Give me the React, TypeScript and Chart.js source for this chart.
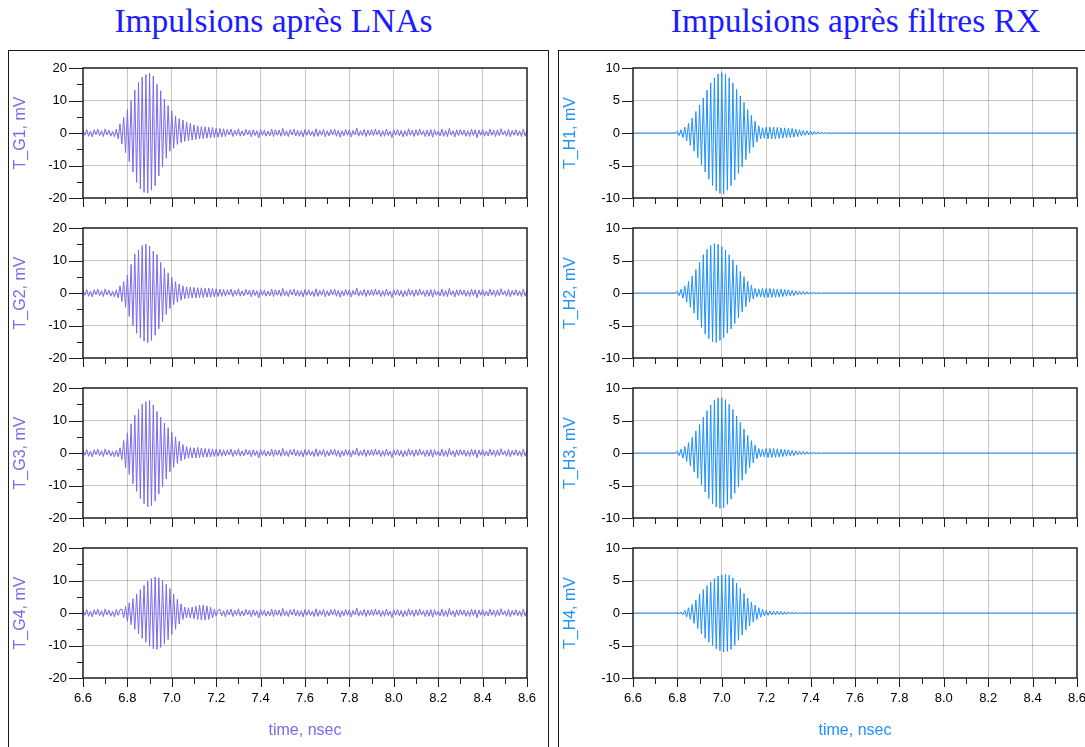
import React, { useEffect, useRef } from "react";
import { Chart, registerables } from "chart.js";

Chart.register(...registerables);

// ---------------- data ----------------
const T_START = 6.6; // nsec
const T_END = 8.6; // nsec
const SAMPLE_STEP_NS = 1 / 120; // half period of the ~60 GHz carrier
const X_TICK_STEP = 0.1;
const X_TICK_LABELS = ["6.6", "6.8", "7.0", "7.2", "7.4", "7.6", "7.8", "8.0", "8.2", "8.4", "8.6"];

const LNA_Y_LABELS = ["-20", "-10", "0", "10", "20"];
const RX_Y_LABELS = ["-10", "-5", "0", "5", "10"];

const LNA_TITLES = ["T_G1, mV", "T_G2, mV", "T_G3, mV", "T_G4, mV"];
const RX_TITLES = ["T_H1, mV", "T_H2, mV", "T_H3, mV", "T_H4, mV"];

// LNA output noise floor, one value per sample from 6.6 to 8.6 nsec (mV)
const NOISE_LNA = [
  0.9, -0.7, 1.1, -1.0, 0.6, -1.2, 1.0, -0.5, 1.2, -0.8, 0.7, -1.1, 1.3, -0.6, 0.9, -1.0, 0.5, -1.2, 1.1, -0.7,
  1.0, -0.8, 0.6, -1.3, 1.2, -0.7, 0.4, -1.1, 0.8, -0.6, 1.4, -1.0, 0.9, -0.8, 1.1, -1.2, 0.6, -0.7, 1.0, -1.1,
  0.7, -1.0, 1.2, -0.6, 0.9, -1.4, 1.0, -0.8, 1.1, -0.7, 0.6, -1.1, 1.2, -1.0, 0.7, -0.9, 1.5, -0.7, 0.9, -1.2,
  1.0, -0.6, 1.1, -0.9, 0.7, -1.1, 0.9, -1.3, 1.2, -0.7, 1.0, -0.8, 0.6, -1.0, 1.1, -0.9, 0.7, -1.2, 1.0, -0.6,
  1.2, -1.1, 0.9, -0.7, 1.3, -1.0, 0.7, -0.9, 1.1, -0.6, 0.9, -1.2, 1.0, -0.8, 0.7, -1.5, 1.1, -0.7, 0.9, -1.0,
  0.6, -0.9, 1.2, -1.1, 1.0, -0.7, 0.9, -1.0, 1.4, -0.8, 0.7, -1.1, 1.0, -0.6, 1.2, -0.9, 0.8, -1.0, 0.7, -1.2,
  1.1, -0.7, 1.0, -0.8, 0.6, -1.1, 1.3, -1.0, 0.8, -0.7, 1.1, -1.2, 0.7, -0.9, 1.0, -0.6, 1.2, -1.0, 0.8, -1.3,
  0.7, -0.9, 1.1, -0.7, 1.0, -1.2, 0.8, -0.6, 1.5, -1.0, 0.7, -0.8, 1.1, -1.1, 0.9, -0.7, 1.0, -0.8, 1.2, -0.6,
  0.9, -1.1, 0.7, -1.0, 1.2, -0.8, 0.6, -1.4, 1.0, -0.7, 1.1, -0.9, 0.8, -1.2, 0.7, -1.0, 1.3, -0.7, 0.9, -1.1,
  1.0, -0.8, 1.2, -0.6, 0.7, -1.1, 0.9, -1.0, 1.1, -1.3, 1.0, -0.7, 0.6, -0.9, 1.2, -1.0, 0.8, -1.1, 1.4, -0.7,
  0.7, -1.2, 1.0, -0.8, 1.1, -0.6, 0.9, -1.0, 0.7, -1.1, 1.2, -0.8, 1.0, -1.5, 0.9, -0.7, 1.1, -1.0, 0.6, -0.9,
  1.2, -0.7, 0.9, -1.1, 1.0, -0.8, 1.3, -0.6, 0.7, -1.0, 1.1, -1.2, 0.8, -0.7, 1.0, -0.9, 0.7, -1.1, 1.2, -1.0,
  0.8,
];

// Pulse extrema (one per half carrier period), mV, after the LNAs
const G1_START_INDEX = 18; // 6.75 nsec
const G1_PULSE = [
  1.2, -1.8, 2.8, -3.4, 4.8, -6.0, 7.2, -8.8, 10.0, -12.0, 13.2, -15.2, 15.6, -17.2, 17.2, -18.3, 18.0, -18.5, 18.4, -17.6,
  17.5, -16.2, 15.0, -13.2, 13.0, -10.5, 10.4, -7.8, 8.4, -5.6, 6.8, -4.7, 5.2, -3.5, 4.4, -3.0, 4.0, -2.6, 3.4, -2.4,
  3.0, -2.2, 2.5, -2.0, 2.2, -1.8, 2.0, -1.7, 1.9, -1.6, 1.8, -1.5, 1.7, -1.4, 1.5, -1.3, 1.4, -1.2, 1.3, -1.1, 1.1,
];
const G2_START_INDEX = 18;
const G2_PULSE = [
  1.0, -1.5, 2.2, -2.6, 3.5, -4.4, 5.5, -7.2, 8.8, -10.0, 12.0, -12.4, 13.2, -13.8, 14.6, -14.8, 15.0, -15.3, 14.4, -14.6,
  12.9, -13.0, 11.8, -11.0, 9.4, -8.8, 7.6, -6.6, 6.2, -4.8, 4.8, -3.6, 3.5, -2.8, 2.8, -2.2, 2.2, -1.8, 1.9, -1.6,
  1.8, -1.5, 1.7, -1.5, 1.6, -1.4, 1.6, -1.4, 1.5, -1.3, 1.5, -1.3, 1.4, -1.2, 1.3, -1.1, 1.2, -1.0, 1.1, -1.0, 1.0,
];
const G3_START_INDEX = 18;
const G3_PULSE = [
  0.8, -1.2, 1.6, -2.0, 3.8, -4.6, 6.2, -6.6, 9.0, -9.4, 11.6, -11.8, 13.4, -14.0, 15.0, -15.6, 15.8, -16.5, 16.1, -16.2,
  14.8, -14.8, 12.8, -12.6, 11.0, -10.4, 9.2, -8.0, 7.8, -5.8, 6.4, -4.4, 5.0, -3.2, 3.6, -2.4, 2.6, -1.9, 2.0, -1.6,
  1.7, -1.5, 1.6, -1.5, 1.7, -1.4, 1.5, -1.3, 1.4, -1.3, 1.3, -1.2, 1.2, -1.1, 1.2, -1.0, 1.1, -1.0, 1.0, -0.9, 0.9,
];
const G4_START_INDEX = 21; // 6.775 nsec
const G4_PULSE = [
  1.2, -1.5, 2.0, -2.6, 3.2, -3.6, 4.4, -5.0, 5.8, -6.4, 7.2, -7.8, 8.5, -9.0, 9.8, -10.2, 10.6, -11.0, 11.1, -11.2,
  10.8, -10.6, 10.0, -9.5, 8.8, -8.2, 7.5, -6.6, 5.8, -5.0, 4.2, -3.4, 2.8, -2.0, 1.8, -1.5, 1.6, -1.5, 1.8, -1.8,
  2.1, -2.0, 2.4, -2.2, 2.4, -2.2, 2.2, -2.0, 1.8, -1.5, 1.2, -1.0, 0.9,
];

// Pulse extrema after the RX filters, mV, starting at 6.8 nsec
const RX_START_T = 6.8;
const H1_PULSE = [
  0.3, -0.4, 0.5, -0.7, 0.9, -1.2, 1.5, -1.9, 2.3, -2.8, 3.3, -3.8, 4.3, -4.9, 5.4, -6.0, 6.6, -7.1, 7.7, -8.1,
  8.5, -8.9, 9.1, -9.3, 9.3, -9.4, 9.1, -8.8, 8.5, -8.1, 7.7, -7.2, 6.7, -6.2, 5.7, -5.2, 4.7, -4.1, 3.6, -3.1,
  2.7, -2.2, 1.8, -1.4, 1.1, -0.9, 0.8, -0.8, 0.9, -0.9, 0.9, -0.9, 0.9, -0.9, 0.85, -0.85, 0.8, -0.8, 0.8, -0.75,
  0.75, -0.7, 0.7, -0.65, 0.6, -0.55, 0.5, -0.45, 0.4, -0.35, 0.35, -0.3, 0.3, -0.25, 0.25, -0.2, 0.2, -0.15, 0.15, -0.1,
  0.1, -0.1, 0.05, -0.05, 0,
];
const H2_PULSE = [
  0.3, -0.4, 0.6, -0.8, 1.1, -1.4, 1.8, -2.2, 2.6, -3.1, 3.6, -4.1, 4.7, -5.3, 5.9, -6.3, 6.7, -7.0, 7.3, -7.5,
  7.6, -7.6, 7.5, -7.3, 7.1, -6.9, 6.6, -6.2, 5.9, -5.5, 5.1, -4.7, 4.3, -3.8, 3.3, -2.9, 2.5, -2.1, 1.8, -1.4,
  1.2, -0.9, 0.7, -0.6, 0.6, -0.6, 0.7, -0.7, 0.7, -0.7, 0.7, -0.7, 0.65, -0.65, 0.6, -0.6, 0.6, -0.55, 0.55, -0.5,
  0.5, -0.45, 0.4, -0.4, 0.35, -0.3, 0.3, -0.25, 0.25, -0.2, 0.2, -0.15, 0.15, -0.1, 0.1, -0.1, 0.05, -0.05, 0,
];
const H3_PULSE = [
  0.3, -0.4, 0.6, -0.8, 1.0, -1.3, 1.6, -2.0, 2.4, -2.9, 3.4, -3.9, 4.4, -4.9, 5.5, -6.0, 6.5, -7.0, 7.4, -7.8,
  8.1, -8.3, 8.5, -8.5, 8.5, -8.4, 8.2, -7.9, 7.5, -7.1, 6.7, -6.2, 5.7, -5.2, 4.7, -4.2, 3.7, -3.2, 2.7, -2.3,
  1.9, -1.5, 1.2, -0.9, 0.7, -0.6, 0.6, -0.6, 0.7, -0.7, 0.7, -0.7, 0.7, -0.65, 0.65, -0.6, 0.6, -0.55, 0.55, -0.5,
  0.5, -0.45, 0.4, -0.4, 0.35, -0.3, 0.3, -0.25, 0.25, -0.2, 0.2, -0.15, 0.15, -0.1, 0.1, -0.1, 0.05, -0.05, 0,
];
const H4_PULSE = [
  0.05, -0.1, 0.15, -0.25, 0.4, -0.6, 0.8, -1.0, 1.3, -1.6, 2.0, -2.4, 2.9, -3.2, 3.6, -3.9, 4.2, -4.5, 4.8, -5.0,
  5.3, -5.5, 5.7, -5.8, 5.9, -6.0, 6.0, -5.9, 5.8, -5.6, 5.4, -5.0, 4.6, -4.2, 3.8, -3.4, 3.0, -2.6, 2.3, -2.0,
  1.7, -1.4, 1.2, -1.0, 0.8, -0.65, 0.55, -0.45, 0.4, -0.35, 0.3, -0.3, 0.3, -0.3, 0.3, -0.25, 0.25, -0.25, 0.2, -0.2,
  0.2, -0.15, 0.15, -0.1, 0.1, -0.1, 0.05, -0.05, 0,
];

// ---------------- styling ----------------
const LNA_COLOR = "rgb(123,104,238)";
const RX_COLOR = "rgb(30,144,255)";
const TITLE_COLOR = "#1c1cff";
const GRID_COLOR = "rgba(0,0,0,0.22)";
const AXIS_COLOR = "#1e1e1e";
const SANS = "'Liberation Sans', Arial, sans-serif";

const PLOT_TOPS = [68, 228, 388, 548];
const PLOT_H = 130;
const TOP_PAD = 8;
const Y_AXIS_W = 74;
const RIGHT_PAD = 20;
const CANVAS_W = 538;

type Pt = { x: number; y: number };

function lnaSeries(pulse: number[], startIndex: number): Pt[] {
  return NOISE_LNA.map((n, i) => ({
    x: T_START + i * SAMPLE_STEP_NS,
    y: i >= startIndex && i < startIndex + pulse.length ? pulse[i - startIndex] : n,
  }));
}

function rxSeries(pulse: number[]): Pt[] {
  const pts: Pt[] = [
    { x: T_START, y: 0 },
    { x: RX_START_T - SAMPLE_STEP_NS, y: 0 },
  ];
  pulse.forEach((v, k) => pts.push({ x: RX_START_T + k * SAMPLE_STEP_NS, y: v }));
  pts.push({ x: T_END, y: 0 });
  return pts;
}

type AxisSpec = {
  min: number;
  max: number;
  step: number;
  majorStep: number;
  labels: string[];
  labelPad: number;
  majorLen: number;
  minorLen: number;
};

const LNA_AXIS: AxisSpec = { min: -20, max: 20, step: 5, majorStep: 10, labels: LNA_Y_LABELS, labelPad: 16, majorLen: 14, minorLen: 6 };
const RX_AXIS: AxisSpec = { min: -10, max: 10, step: 5, majorStep: 5, labels: RX_Y_LABELS, labelPad: 13, majorLen: 11, minorLen: 6 };

function isOnStep(v: number, origin: number, step: number) {
  const k = Math.round((v - origin) / step);
  return Math.abs(v - (origin + k * step)) < 1e-6;
}

type SubplotProps = {
  pageLeft: number;
  pageTop: number;
  bottomAxis: boolean;
  data: Pt[];
  color: string;
  yTitle: string;
  axis: AxisSpec;
};

function Subplot({ pageLeft, pageTop, bottomAxis, data, color, yTitle, axis }: SubplotProps) {
  const ref = useRef<HTMLCanvasElement | null>(null);
  const canvasH = bottomAxis ? TOP_PAD + PLOT_H + 70 : TOP_PAD + PLOT_H + 14;

  useEffect(() => {
    if (!ref.current) return;
    const frameTicks = {
      id: "frameTicks",
      afterDraw(chart: any) {
        const { ctx, chartArea: a, scales } = chart;
        const xs = scales.x;
        const ys = scales.y;
        ctx.save();
        ctx.strokeStyle = AXIS_COLOR;
        ctx.lineWidth = 1;
        ctx.beginPath();
        xs.ticks.forEach((t: any) => {
          const px = Math.round(xs.getPixelForValue(t.value)) + 0.5;
          const major = isOnStep(t.value, T_START, 0.2);
          const len = major ? 9 : 6;
          ctx.moveTo(px, a.bottom);
          ctx.lineTo(px, a.bottom + len);
        });
        ys.ticks.forEach((t: any) => {
          const py = Math.round(ys.getPixelForValue(t.value)) + 0.5;
          const major = isOnStep(t.value, axis.min, axis.majorStep);
          const len = major ? axis.majorLen : axis.minorLen;
          ctx.moveTo(a.left - len, py);
          ctx.lineTo(a.left, py);
        });
        ctx.stroke();
        ctx.lineWidth = 1.5;
        ctx.strokeRect(Math.round(a.left), Math.round(a.top), Math.round(a.right - a.left), Math.round(a.bottom - a.top));
        ctx.restore();
      },
    };

    const chart = new Chart(ref.current, {
      type: "line",
      data: {
        datasets: [
          {
            data,
            borderColor: color,
            borderWidth: 1,
            pointRadius: 0,
            fill: false,
            tension: 0,
          },
        ],
      },
      options: {
        animation: false,
        responsive: false,
        devicePixelRatio: 1,
        parsing: false,
        normalized: true,
        events: [],
        layout: { autoPadding: false, padding: { top: TOP_PAD, right: RIGHT_PAD, left: 0, bottom: 0 } },
        plugins: { legend: { display: false }, tooltip: { enabled: false } },
        scales: {
          x: {
            type: "linear",
            min: T_START,
            max: T_END,
            afterFit: (s: any) => {
              s.height = canvasH - TOP_PAD - PLOT_H;
              s.paddingLeft = 0;
              s.paddingRight = 0;
              s.paddingTop = 0;
              s.paddingBottom = 0;
            },
            ticks: {
              stepSize: X_TICK_STEP,
              autoSkip: false,
              maxRotation: 0,
              minRotation: 0,
              display: bottomAxis,
              padding: 13,
              color: "#000",
              font: { family: SANS, size: 13 },
              callback: (v: any) => {
                const val = Number(v);
                if (!isOnStep(val, T_START, 0.2)) return "";
                return X_TICK_LABELS[Math.round((val - T_START) / 0.2)] ?? "";
              },
            },
            grid: {
              drawTicks: false,
              lineWidth: 1,
              color: (c: any) => {
                const v = c.tick ? c.tick.value : NaN;
                if (!isOnStep(v, T_START, 0.2)) return "rgba(0,0,0,0)";
                if (Math.abs(v - T_START) < 1e-6 || Math.abs(v - T_END) < 1e-6) return "rgba(0,0,0,0)";
                return GRID_COLOR;
              },
            },
            border: { display: false },
            title: {
              display: bottomAxis,
              text: "time, nsec",
              color,
              font: { family: SANS, size: 16 },
              padding: { top: 0, bottom: 8 },
            },
          },
          y: {
            type: "linear",
            min: axis.min,
            max: axis.max,
            afterFit: (s: any) => {
              s.width = Y_AXIS_W;
              s.paddingTop = 0;
              s.paddingBottom = 0;
              s.paddingLeft = 0;
              s.paddingRight = 0;
            },
            ticks: {
              stepSize: axis.step,
              autoSkip: false,
              padding: axis.labelPad,
              color: "#000",
              font: { family: SANS, size: 13 },
              callback: (v: any) => {
                const val = Number(v);
                if (!isOnStep(val, axis.min, axis.majorStep)) return "";
                return axis.labels[Math.round((val - axis.min) / axis.majorStep)] ?? "";
              },
            },
            grid: {
              drawTicks: false,
              lineWidth: 1,
              color: (c: any) => {
                const v = c.tick ? c.tick.value : NaN;
                if (!isOnStep(v, axis.min, axis.majorStep)) return "rgba(0,0,0,0)";
                if (v === axis.min || v === axis.max) return "rgba(0,0,0,0)";
                return GRID_COLOR;
              },
            },
            border: { display: false },
            title: {
              display: true,
              text: yTitle,
              color,
              font: { family: SANS, size: 16 },
              padding: { top: 2, bottom: 0 },
            },
          },
        },
      } as any,
      plugins: [frameTicks as any],
    });
    return () => chart.destroy();
  }, []);

  return (
    <canvas
      ref={ref}
      width={CANVAS_W}
      height={canvasH}
      style={{ position: "absolute", left: pageLeft, top: pageTop - TOP_PAD, width: CANVAS_W, height: canvasH }}
    />
  );
}

const LNA_DATA = [
  lnaSeries(G1_PULSE, G1_START_INDEX),
  lnaSeries(G2_PULSE, G2_START_INDEX),
  lnaSeries(G3_PULSE, G3_START_INDEX),
  lnaSeries(G4_PULSE, G4_START_INDEX),
];
const RX_DATA = [rxSeries(H1_PULSE), rxSeries(H2_PULSE), rxSeries(H3_PULSE), rxSeries(H4_PULSE)];

export default function App() {
  const titleStyle: React.CSSProperties = {
    position: "absolute",
    top: 4,
    width: 600,
    textAlign: "center",
    fontFamily: "'Liberation Serif', 'Times New Roman', serif",
    fontSize: 33.5,
    lineHeight: "34px",
    color: TITLE_COLOR,
    whiteSpace: "nowrap",
  };
  const frameStyle: React.CSSProperties = {
    position: "absolute",
    top: 50,
    width: 541,
    height: 800,
    boxSizing: "border-box",
    border: "1px solid #1a1a1a",
  };
  return (
    <div style={{ position: "fixed", left: 0, top: 0, width: 1085, height: 747, overflow: "hidden", background: "#fff" }}>
      <div style={{ ...titleStyle, left: 273.5 - 300 }}>Impulsions après LNAs</div>
      <div style={{ ...titleStyle, left: 855.5 - 300 }}>Impulsions après filtres RX</div>
      <div style={{ ...frameStyle, left: 8 }} />
      <div style={{ ...frameStyle, left: 558 }} />
      {LNA_DATA.map((d, i) => (
        <Subplot
          key={"g" + i}
          pageLeft={9}
          pageTop={PLOT_TOPS[i]}
          bottomAxis={i === 3}
          data={d}
          color={LNA_COLOR}
          yTitle={LNA_TITLES[i]}
          axis={LNA_AXIS}
        />
      ))}
      {RX_DATA.map((d, i) => (
        <Subplot
          key={"h" + i}
          pageLeft={559}
          pageTop={PLOT_TOPS[i]}
          bottomAxis={i === 3}
          data={d}
          color={RX_COLOR}
          yTitle={RX_TITLES[i]}
          axis={RX_AXIS}
        />
      ))}
    </div>
  );
}
